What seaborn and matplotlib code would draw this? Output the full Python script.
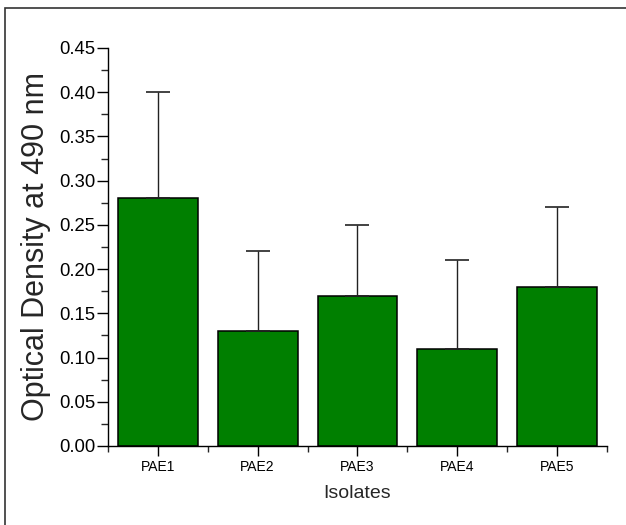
import pandas as pd
import seaborn as sns
import matplotlib.pyplot as plt
from matplotlib.patches import Rectangle
from matplotlib.ticker import MultipleLocator, FixedLocator

# data
isolates = ['PAE1', 'PAE2', 'PAE3', 'PAE4', 'PAE5']
od_490 = [0.28, 0.13, 0.17, 0.11, 0.18]
od_err = [0.12, 0.09, 0.08, 0.10, 0.09]

df = pd.DataFrame({'isolate': isolates, 'od': od_490, 'err': od_err})

sns.set_style('ticks')
plt.rcParams['font.family'] = ['Liberation Sans', 'DejaVu Sans']

fig = plt.figure(figsize=(6.26, 5.25), dpi=100)
ax = fig.add_axes([0.1725, 0.1505, 0.7971, 0.7581])

sns.barplot(data=df, x='isolate', y='od', color='#007F00', saturation=1,
            width=0.8, edgecolor='black', linewidth=1.1, errorbar=None, ax=ax)

# upward-only error bars
ax.errorbar(range(len(df)), df['od'], yerr=[[0] * len(df), df['err']],
            fmt='none', ecolor='#222222', elinewidth=1, capsize=8.5,
            capthick=1.2, zorder=1)

ax.set_xlim(-0.5, 4.5)
ax.set_ylim(0, 0.45)
ax.yaxis.set_major_locator(MultipleLocator(0.05))
ax.yaxis.set_minor_locator(MultipleLocator(0.025))
ax.xaxis.set_minor_locator(FixedLocator([-0.5, 0.5, 1.5, 2.5, 3.5, 4.5]))
ax.yaxis.set_major_formatter(plt.FormatStrFormatter('%.2f'))

ax.tick_params(axis='y', which='major', length=8, width=1, labelsize=13.3, pad=1, colors='black')
ax.tick_params(axis='y', which='minor', length=5, width=1)
ax.tick_params(axis='x', which='major', length=7, width=1, labelsize=10, pad=3, colors='black')
ax.tick_params(axis='x', which='minor', length=4, width=1)

for s in ['left', 'bottom']:
    ax.spines[s].set_linewidth(1)
    ax.spines[s].set_color('black')
sns.despine(ax=ax)

ax.set_xlabel('Isolates', fontsize=14, labelpad=8)
ax.set_ylabel('Optical Density at 490 nm', fontsize=22, labelpad=6)

# outer frame around the figure
fig.patches.append(Rectangle((0.008, -0.02), 1.1, 1.0048, transform=fig.transFigure,
                             fill=False, edgecolor='#333333', linewidth=1.2))

fig.savefig('out.png', dpi=100)
